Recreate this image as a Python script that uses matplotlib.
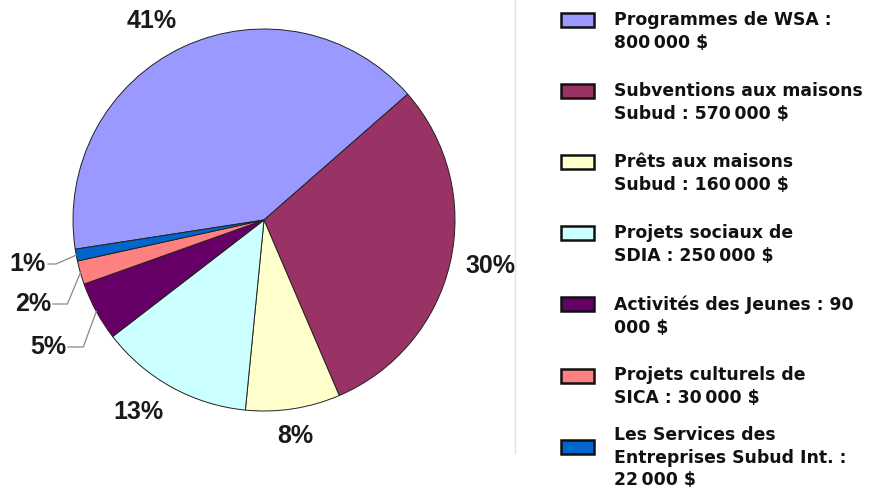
import numpy as np
import matplotlib.pyplot as plt
from matplotlib.patches import Rectangle

# =========================================================
# Data
# =========================================================
legend_labels = [
    "Programmes de WSA :\n800\u202f000 $",
    "Subventions aux maisons\nSubud : 570\u202f000 $",
    "Prêts aux maisons\nSubud : 160\u202f000 $",
    "Projets sociaux de\nSDIA : 250\u202f000 $",
    "Activités des Jeunes : 90\n000 $",
    "Projets culturels de\nSICA : 30\u202f000 $",
    "Les Services des\nEntreprises Subud Int. :\n22\u202f000 $",
]
shares = [41, 30, 8, 13, 5, 2, 1]
pct_labels = ["41%", "30%", "8%", "13%", "5%", "2%", "1%"]
colors = ["#9999FF", "#993366", "#FFFFCC", "#CCFFFF", "#660066", "#FF8080", "#0066CC"]

# =========================================================
# Layout (pixel coordinates, y measured from the top)
# =========================================================
W, H = 870, 488
CX, CY, R = 264, 220, 191
# labels with leader lines: text centre in px
leader_pos = {4: (48, 347), 5: (33, 304), 6: (28, 264)}

fig = plt.figure(figsize=(W / 100, H / 100), dpi=100)
ax = fig.add_axes([0, 0, 1, 1])


def py(y):
    return H - y


wedges, _ = ax.pie(
    shares, colors=colors, startangle=188.8, counterclock=False,
    center=(CX, py(CY)), radius=R, frame=True,
    wedgeprops=dict(edgecolor="#222222", linewidth=0.7),
)
ax.set_xlim(0, W)
ax.set_ylim(0, H)
ax.axis("off")

pct_font = dict(family="Liberation Sans", fontsize=18, fontweight="bold", color="#1a1a1a")

for i, w in enumerate(wedges):
    mid = np.deg2rad((w.theta1 + w.theta2) / 2)
    c, s = np.cos(mid), np.sin(mid)
    if i in leader_pos:
        tx, ty = leader_pos[i]
        ex, ey = CX + R * c, py(CY) + R * s
        ax.text(tx, py(ty), pct_labels[i], ha="center", va="center", **pct_font)
        x0 = tx + 20
        xe = ex - 13 if i != 6 else x0 + 8
        ax.plot([x0, xe, ex], [py(ty), py(ty), ey], color="#888888", lw=0.9)
    else:
        d = R * 1.08
        ha = "left" if c > 0.3 else ("right" if c < -0.3 else "center")
        va = "bottom" if s > 0.3 else ("top" if s < -0.3 else "center")
        ax.text(CX + d * c, py(CY) + d * s, pct_labels[i], ha=ha, va=va, **pct_font)

# faint frame line between chart and legend
ax.plot([515, 515], [py(0), py(453)], color="#e4e4e4", lw=1)

# =========================================================
# Legend
# =========================================================
box_y0, box_step = 20, 71.1
line_h = 23
for i, (lab, col) in enumerate(zip(legend_labels, colors)):
    yc = box_y0 + i * box_step
    ax.add_patch(Rectangle((561, py(yc) - 7), 33, 14, facecolor=col,
                           edgecolor="#111111", linewidth=1.8))
    nlines = lab.count("\n") + 1
    top = yc - 9 - (nlines - 2) * line_h / 2
    ax.text(614, py(top), lab, ha="left", va="top", fontsize=12.4,
            fontweight="bold", family="DejaVu Sans", color="#111111",
            linespacing=1.33)

fig.savefig("out.png", dpi=100)
